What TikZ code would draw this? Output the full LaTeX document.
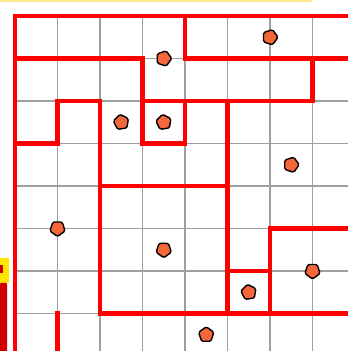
\documentclass[tikz,border=0pt]{standalone}
\usepackage{xcolor}
\usetikzlibrary{shapes.geometric}

\definecolor{agentorange}{HTML}{F4673A}
\definecolor{barred}{HTML}{D00000}
\definecolor{baryellow}{HTML}{FFE600}
\definecolor{topline}{HTML}{FFE88A}

\tikzset{
  gridline/.style={gray!75, line width=1.4bp},
  wall/.style={red, line width=4.5bp, line cap=rect, line join=miter},
  agent/.style={regular polygon, regular polygon sides=5, minimum size=16bp,
    inner sep=0pt, fill=agentorange, draw=black, line width=1.4bp,
    rounded corners=1.5bp},
}

\begin{document}
\begin{tikzpicture}[x=42.5bp, y=-42.5bp]

        % ===================================================
        % Frame (same size as the reference)
        % ===================================================
        \useasboundingbox (-0.3529,-0.3765) rectangle (7.8353,7.8824);
        \clip (-0.3529,-0.3765) rectangle (7.8353,7.8824);
        \fill[white] (-0.3529,-0.3765) rectangle (7.8353,7.8824);

        % ===================================================
        % Window bits at the edges
        % ===================================================
        \fill[topline] (-0.3529,-0.3765) rectangle (6.988,-0.329);
        \fill[baryellow] (-0.3529,5.694) rectangle (-0.141,6.282);
        \fill[barred] (-0.3529,5.85) rectangle (-0.29,6.05);
        \fill[barred, rounded corners=1bp] (-0.3529,6.282) rectangle (-0.188,8.2);

        % ===================================================
        % Grid
        % ===================================================
        \draw[gridline, step=42.5bp] (0,0) grid (9,9);

        % ===================================================
        % Walls
        % ===================================================
        \draw[wall] (9,0) -- (0,0) -- (0,9);
        \draw[wall] (0,1) -- (3,1) -- (3,3) -- (4,3) -- (4,2);
        \draw[wall] (3,2) -- (7,2) -- (7,1);
        \draw[wall] (4,0) -- (4,1) -- (9,1);
        \draw[wall] (0,3) -- (1,3) -- (1,2) -- (2,2) -- (2,7) -- (9,7);
        \draw[wall] (1,7) -- (1,9);
        \draw[wall] (2,4) -- (5,4);
        \draw[wall] (5,2) -- (5,7);
        \draw[wall] (5,6) -- (6,6);
        \draw[wall] (6,7) -- (6,5) -- (9,5);

        % ===================================================
        % Agents
        % ===================================================
        \node[agent, rotate=-90]  (a1)  at (3.5,1)   {};
        \node[agent, rotate=-135] (a2)  at (2.5,2.5) {};
        \node[agent, rotate=-135] (a3)  at (3.5,2.5) {};
        \node[agent, rotate=-90]  (a4)  at (6,0.5)   {};
        \node[agent, rotate=-90]  (a5)  at (6.5,3.5) {};
        \node[agent, rotate=180]  (a6)  at (1,5)     {};
        \node[agent, rotate=180]  (a7)  at (3.5,5.5) {};
        \node[agent, rotate=180]  (a8)  at (7,6)     {};
        \node[agent, rotate=-135] (a9)  at (5.5,6.5) {};
        \node[agent]              (a10) at (4.5,7.5) {};

\end{tikzpicture}
\end{document}
